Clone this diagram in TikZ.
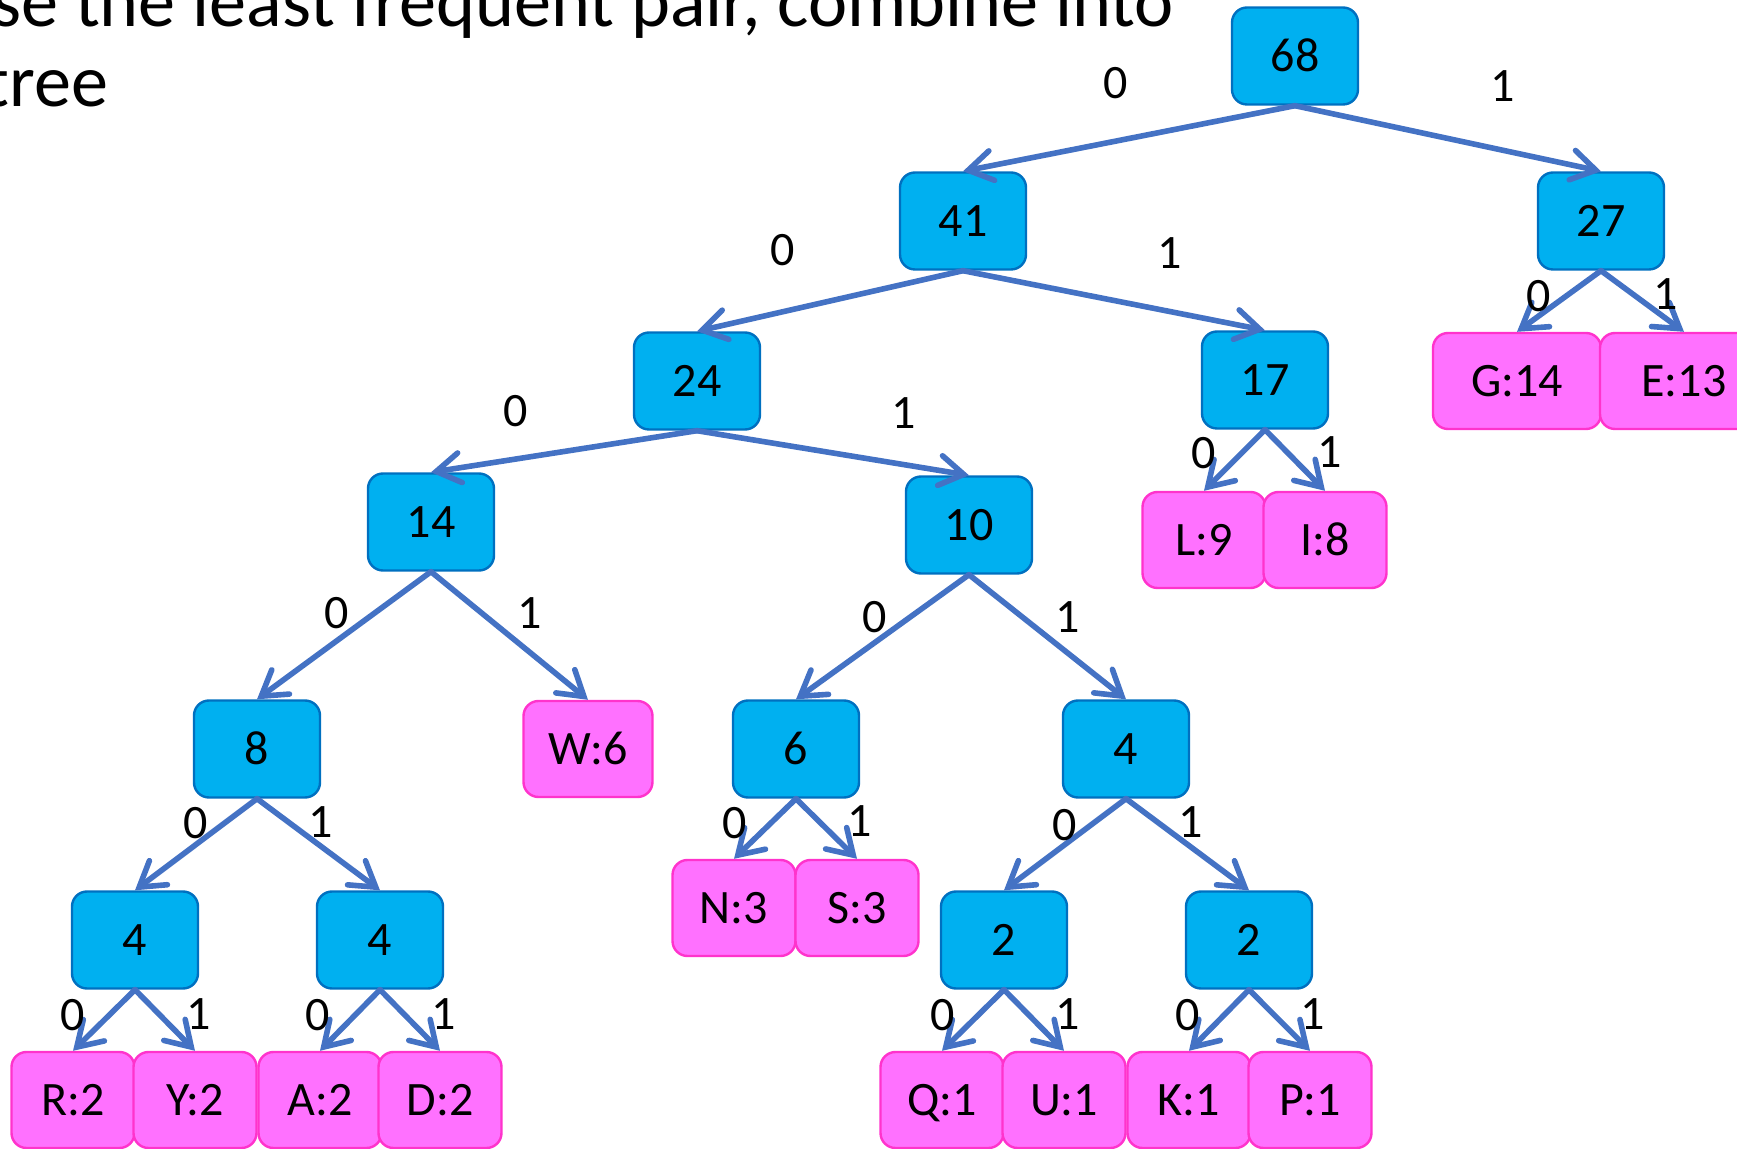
\documentclass[tikz,border=0pt]{standalone}
\usepackage{fontspec}
\setmainfont{Carlito}
\usepackage{xcolor}
\usetikzlibrary{arrows.meta}
\definecolor{innerfill}{HTML}{00B0F0}
\definecolor{innerline}{HTML}{0070C0}
\definecolor{leaffill}{HTML}{FF71FF}
\definecolor{leafline}{HTML}{FF33CC}
\definecolor{branchblue}{HTML}{4472C4}

\begin{document}
\begin{tikzpicture}
		[x=0.5pt,y=-0.5pt,
		inner/.style={draw=innerline,fill=innerfill,line width=1.2pt,rounded corners=7.5pt,
			minimum width=63pt,minimum height=48.5pt,text height=15.2pt,text depth=0pt,
			font=\fontsize{24}{28}\selectfont},
		leaf/.style={inner,draw=leafline,fill=leaffill,minimum width=61.5pt,minimum height=48pt},
		bit/.style={inner sep=0pt,font=\fontsize{24}{28}\selectfont},
		heading/.style={inner sep=0pt,font=\fontsize{37.1}{45}\selectfont},
		branch/.style={draw=branchblue,line width=2.8pt,line cap=round,
			-{Straight Barb[length=12pt,width=15pt,line cap=round]}}]
		\useasboundingbox (0,0) rectangle (1737,1149);
		% heading, cut at the left edge
		\node[heading,anchor=base west] (head1) at (-8,27) {se the least frequent pair, combine into};
		\node[heading,anchor=base west] (head2) at (-16,107) {tree};
		% inner nodes
		\foreach \n/\x/\y/\t in {n68/1295/56/68,n41/963/221/41,n27/1601/221/27,n24/697/381/24,
			n17/1265/380/17,n14/431/522/14,n10/969/525/10,n8/257/749/8,n6/796/749/6,n4c/1126/749/4,
			n4a/135/940/4,n4b/380/940/4,n2a/1004/940/2,n2b/1249/940/2}
			\node[inner] (\n) at (\x,\y) {\t};
		% leaves
		\foreach \n/\x/\y/\t/\w in {G14/1517/381/G:14/84pt,E13/1684/381/E:13/84pt,L9/1204/540/L:9/61.5pt,
			I8/1325/540/I:8/61.5pt,W6/588/749/W:6/64.5pt,N3/734/908/N:3/61.5pt,S3/857/908/S:3/61.5pt,
			R2/73/1100/R:2/61.5pt,Y2/195/1100/Y:2/61.5pt,A2/320/1100/A:2/61.5pt,D2/440/1100/D:2/61.5pt,
			Q1/942/1100/Q:1/61.5pt,U1/1064/1100/U:1/61.5pt,K1/1189/1100/K:1/61.5pt,P1/1310/1100/P:1/61.5pt}
			\node[leaf,minimum width=\w] (\n) at (\x,\y) {\t};
		% branches
		\foreach \a/\b in {n68/n41,n68/n27,n41/n24,n41/n17,n27/G14,n27/E13,n24/n14,n24/n10,
			n17/L9,n17/I8,n14/n8,n14/W6,n10/n6,n10/n4c,n8/n4a,n8/n4b,n6/N3,n6/S3,n4c/n2a,n4c/n2b,
			n4a/R2,n4a/Y2,n4b/A2,n4b/D2,n2a/Q1,n2a/U1,n2b/K1,n2b/P1}
			\draw[branch] (\a.south) -- (\b.north);
		% bit labels
		\foreach \n/\x/\y/\t in {b68z/1116/83/0,b68o/1503/86/1,b41z/783/250/0,b41o/1170/253/1,
			b27z/1539/296/0,b27o/1666/294/1,b24z/516/411/0,b24o/904/413/1,b17z/1204/453/0,b17o/1330/452/1,
			b14z/337/613/0,b14o/530/613/1,b10z/875/617/0,b10o/1068/617/1,b8z/196/823/0,b8o/321/822/1,
			b6z/735/823/0,b6o/860/821/1,b4cz/1065/825/0,b4co/1191/822/1,b4az/73/1015/0,b4ao/199/1014/1,
			b4bz/318/1015/0,b4bo/444/1014/1,b2az/943/1015/0,b2ao/1068/1014/1,b2bz/1188/1015/0,b2bo/1313/1014/1}
			\node[bit] (\n) at (\x,\y) {\t};
\end{tikzpicture}
\end{document}
